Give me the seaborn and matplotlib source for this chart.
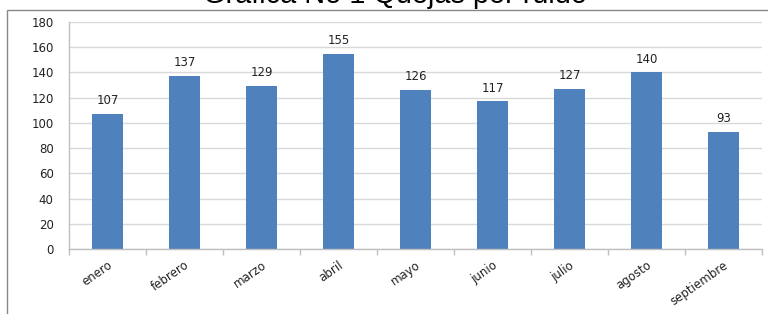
import matplotlib
matplotlib.use("Agg")
import matplotlib.pyplot as plt
import seaborn as sns
import pandas as pd
from matplotlib.patches import Rectangle
from matplotlib.ticker import FixedLocator

months = ["enero", "febrero", "marzo", "abril", "mayo", "junio", "julio", "agosto", "septiembre"]
quejas = [107, 137, 129, 155, 126, 117, 127, 140, 93]
yticks = [0, 20, 40, 60, 80, 100, 120, 140, 160, 180]
title = "Grafica No 1 Quejas por ruido"

sns.set_theme(style="white")
plt.rcParams['font.family'] = ['DejaVu Sans']

df = pd.DataFrame({"mes": months, "quejas": quejas})

fig = plt.figure(figsize=(7.68, 3.14), dpi=100)
ax = fig.add_axes([69/768, 1-249/314, (762-69)/768, (249-22)/314])

sns.barplot(data=df, x="mes", y="quejas", color="#4F81BD", width=0.4, ax=ax,
            saturation=1, edgecolor="none")

ax.set_ylim(0, 180)
ax.set_xlim(-0.5, len(months)-0.5)
ax.set_yticks(yticks)
ax.yaxis.grid(True, color="#D9D9D9", linewidth=1)
ax.set_axisbelow(True)
ax.set_xlabel("")
ax.set_ylabel("")

for s in ["top", "right"]:
    ax.spines[s].set_visible(False)
for s in ["left", "bottom"]:
    ax.spines[s].set_color("#BFBFBF")
    ax.spines[s].set_linewidth(1)

fs = 8.5
ax.tick_params(axis="y", length=3, color="#BFBFBF", pad=8, labelsize=fs, labelcolor="#222222")
ax.tick_params(axis="x", which="major", length=0, pad=7, labelsize=fs, labelcolor="#222222")
ax.xaxis.set_minor_locator(FixedLocator([i + 0.5 for i in range(-1, len(months))]))
ax.tick_params(axis="x", which="minor", length=4, color="#BFBFBF", bottom=True)
for lab in ax.get_xticklabels():
    lab.set_rotation(35)
    lab.set_ha("right")
    lab.set_rotation_mode("anchor")

ax.bar_label(ax.containers[0], labels=[str(v) for v in quejas], padding=5,
             fontsize=fs, color="#222222")

fig.add_artist(Rectangle((7/768, -0.1), 1.0, 1 - 9.5/314 + 0.1, transform=fig.transFigure,
                         fill=False, edgecolor="#888888", linewidth=1))
fig.text(395/768, 1 - 3/314, title, ha="center", va="baseline",
         family="Liberation Sans", fontsize=20.8, color="black")

fig.savefig("out.png", dpi=100)
